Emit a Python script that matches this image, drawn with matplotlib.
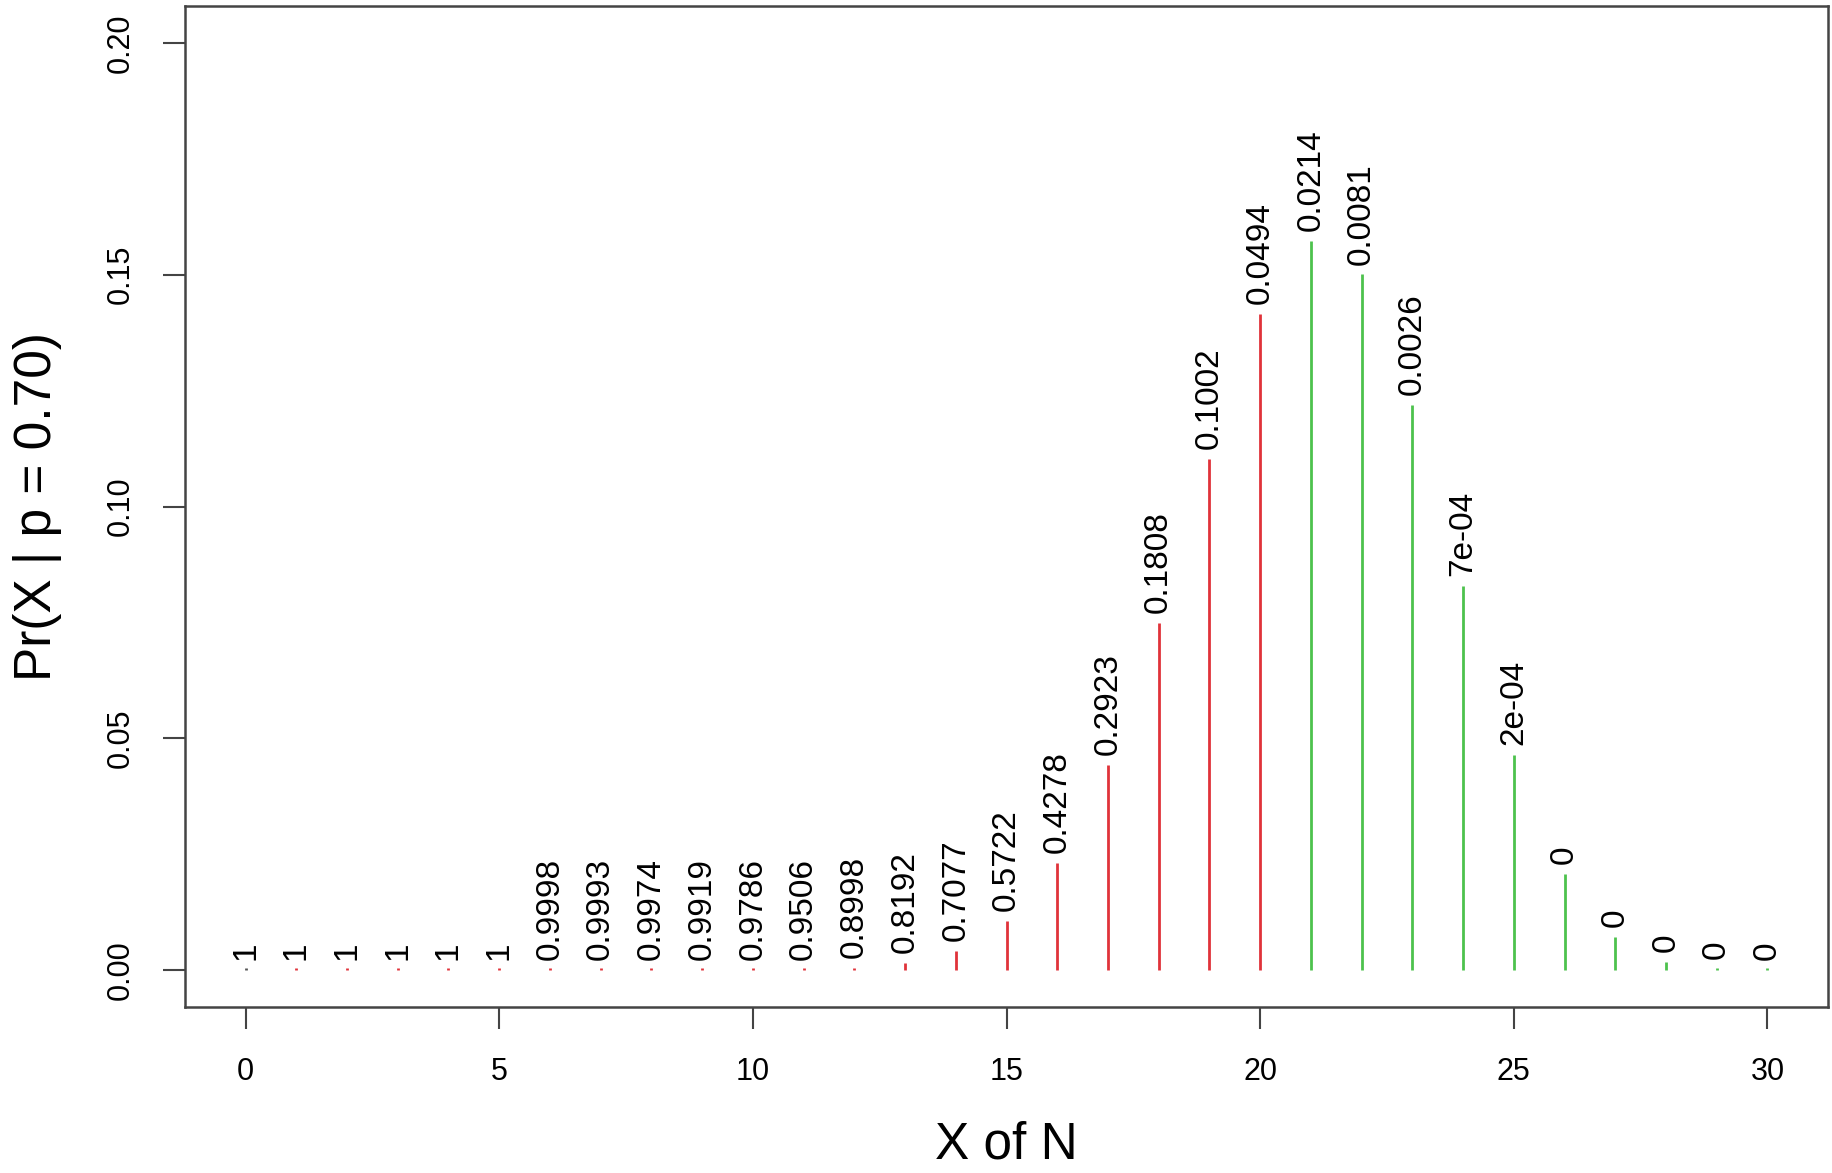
import matplotlib
matplotlib.use("Agg")
import matplotlib.pyplot as plt

plt.rcParams['font.family'] = ['Liberation Sans', 'DejaVu Sans']

# valores
x = list(range(31))
prob = [0.0, 0.0, 0.0, 0.0, 0.0, 0.0, 0.0, 0.0, 0.000001, 0.000005,
        0.00003, 0.00012, 0.00046, 0.0015, 0.0042, 0.0106, 0.0231,
        0.0442, 0.0749, 0.1103, 0.1416, 0.1573, 0.1501, 0.1219, 0.0829,
        0.0464, 0.0208, 0.0072, 0.0018, 0.0003, 0.00002]
etiquetas = ['1', '1', '1', '1', '1', '1', '0.9998', '0.9993', '0.9974',
             '0.9919', '0.9786', '0.9506', '0.8998', '0.8192', '0.7077',
             '0.5722', '0.4278', '0.2923', '0.1808', '0.1002', '0.0494',
             '0.0214', '0.0081', '0.0026', '7e-04', '2e-04', '0', '0', '0',
             '0', '0']
colores = ['#555555'] + ['#E0333A'] * 20 + ['#4DC24D'] * 10

fig = plt.figure(figsize=(18.32, 11.73), dpi=100)
ax = fig.add_axes([0.1008, 0.1414, 0.8972, 0.8536])

for xi, yi, c, t in zip(x, prob, colores, etiquetas):
    ax.vlines(xi, 0, max(yi, 0.0004), color=c, lw=2)
    ax.annotate(t, (xi, yi), xytext=(0, 7), textcoords='offset points',
                rotation=90, ha='center', va='bottom', fontsize=24)

ax.set_xlim(-1.2, 31.2)
ax.set_ylim(-0.008, 0.208)
ax.set_xticks([0, 5, 10, 15, 20, 25, 30])
ax.set_yticks([0.0, 0.05, 0.10, 0.15, 0.20])
ax.set_yticklabels(['0.00', '0.05', '0.10', '0.15', '0.20'], rotation=90, va='center')
ax.tick_params(axis='both', direction='out', length=16, width=1.5, color='#444444',
               labelsize=22)
ax.tick_params(axis='x', pad=20)
ax.tick_params(axis='y', pad=19)
for s in ax.spines.values():
    s.set_color('#444444')
    s.set_linewidth(1.8)

ax.set_xlabel('X of N', fontsize=37, labelpad=24)
ax.set_ylabel('Pr(X | p = 0.70)', fontsize=37, labelpad=32)

fig.savefig('out.png', dpi=100)
